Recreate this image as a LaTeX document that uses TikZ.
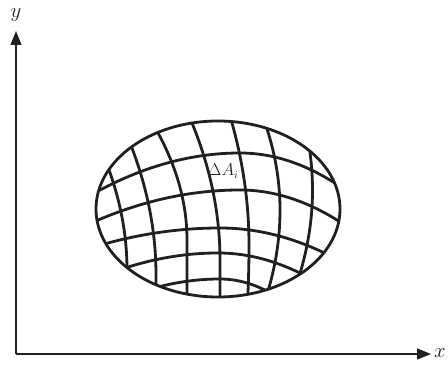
\documentclass[tikz,border=0pt]{standalone}
\usetikzlibrary{arrows.meta}
\definecolor{ink}{HTML}{231F20}
\begin{document}
\begin{tikzpicture}[x=1pt,y=-1pt,
  axis/.style={draw=ink,line width=1.4pt,-{Triangle[length=14pt,width=11pt]}},
  grid/.style={draw=ink,line width=2.8pt,line cap=round,samples=60},
  lbl/.style={text=ink,inner sep=0pt}]
\useasboundingbox (0,0) rectangle (448,366);
\coordinate (O) at (16,354);
\coordinate (Xend) at (431,354);
\coordinate (Yend) at (16,31);
\draw[axis] (O) -- (Xend);
\draw[axis] (O) -- (Yend);
\node[lbl,anchor=west] (xl) at (434,353) {\fontsize{21}{24}\selectfont$x$};
\node[lbl] (yl) at (16,15) {\fontsize{21}{24}\selectfont$y$};
\coordinate (C) at (218,209);
\begin{scope}
\clip (C) ellipse [x radius=122, y radius=88];
% horizontal curves: y = y0 + ((x-x0)/s)^2
\draw[grid] plot[domain=80:240] (\x,{153+((\x-240)/23.0)^2});
\draw[grid] plot[domain=240:350] (\x,{153+((\x-240)/17.3)^2});
\draw[grid] plot[domain=80:240] (\x,{190+((\x-240)/25.9)^2});
\draw[grid] plot[domain=240:350] (\x,{190+((\x-240)/17.7)^2});
\draw[grid] plot[domain=80:220] (\x,{228+((\x-220)/28.9)^2});
\draw[grid] plot[domain=220:350] (\x,{228+((\x-220)/20.9)^2});
\draw[grid] plot[domain=90:218] (\x,{253+((\x-218)/24.0)^2});
\draw[grid] plot[domain=218:340] (\x,{253+((\x-218)/18.3)^2});
\draw[grid] plot[domain=130:220] (\x,{279+((\x-220)/21.9)^2});
\draw[grid] plot[domain=220:300] (\x,{279+((\x-220)/13.5)^2});
% vertical curves: x = xm - ((y-ym)/s)^2
\draw[grid] plot[domain=150:270,variable=\t] ({127-((\t-270)/23.6)^2},\t) -- (127,310);
\draw[grid] plot[domain=120:275,variable=\t] ({156-((\t-275)/25.9)^2},\t) -- (156,310);
\draw[grid] plot[domain=115:240,variable=\t] ({187-((\t-240)/19.9)^2},\t) -- (187,310);
\draw[grid] plot[domain=110:260,variable=\t] ({220-((\t-260)/25.9)^2},\t) -- (220,310);
\draw[grid] plot[domain=110:245,variable=\t] ({249-((\t-245)/29.6)^2},\t);
\draw[grid] plot[domain=245:310,variable=\t] ({249-((\t-245)/47.1)^2},\t);
\draw[grid] plot[domain=110:210,variable=\t] ({280-((\t-210)/22.5)^2},\t);
\draw[grid] plot[domain=210:310,variable=\t] ({280-((\t-210)/23.4)^2},\t);
\draw[grid] plot[domain=130:300,variable=\t] ({312.5-((\t-190)/23.6)^2},\t);
\end{scope}
\draw[grid] (C) ellipse [x radius=122, y radius=88];
\node[lbl,anchor=base west] (dA) at (208,176) {\fontsize{16}{19}\selectfont$\Delta A_i$};
\end{tikzpicture}
\end{document}
